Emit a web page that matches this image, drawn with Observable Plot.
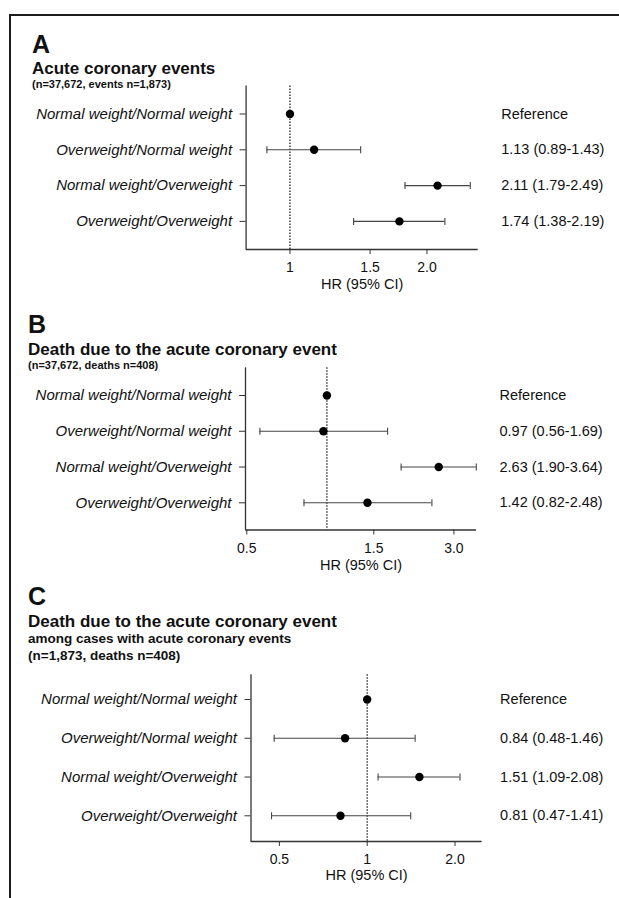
<!DOCTYPE html>
<html>
<head>
<meta charset="utf-8">
<script src="https://cdn.jsdelivr.net/npm/d3@7"></script>
<script src="https://cdn.jsdelivr.net/npm/@observablehq/plot@0.6"></script>
<style>
html, body { margin: 0; padding: 0; background: #fff; }
body { width: 619px; height: 898px; position: relative; overflow: hidden;
  font-family: "Liberation Sans", Arial, Helvetica, sans-serif; color: #111; }
.frame { position: absolute; left: 9px; top: 14px; width: 640px; height: 900px;
  border-top: 2px solid #1c1c1c; border-left: 2px solid #1c1c1c; }
.t { position: absolute; white-space: nowrap; line-height: 1; font-weight: bold; color: #111; }
.panel { position: absolute; left: 0; }
g[aria-label="y-axis tick label"] { font-style: italic; }
</style>
</head>
<body>
<div class="frame"></div>
<div class="t" style="left:32px;top:32.1px;font-size:25px;">A</div>
<div class="t" style="left:32px;top:59.6px;font-size:17px;">Acute coronary events</div>
<div class="t" style="left:32px;top:79.2px;font-size:11px;">(n=37,672, events n=1,873)</div>

<div class="t" style="left:28px;top:312.1px;font-size:25px;">B</div>
<div class="t" style="left:28px;top:340.6px;font-size:17px;">Death due to the acute coronary event</div>
<div class="t" style="left:28px;top:360.2px;font-size:11px;">(n=37,672, deaths n=408)</div>

<div class="t" style="left:28px;top:583.8px;font-size:25px;">C</div>
<div class="t" style="left:28px;top:612.9px;font-size:17px;">Death due to the acute coronary event</div>
<div class="t" style="left:28px;top:631.9px;font-size:13.5px;">among cases with acute coronary events</div>
<div class="t" style="left:28px;top:649.1px;font-size:13.5px;">(n=1,873, deaths n=408)</div>

<div id="pA" class="panel" style="top:80px;"></div>
<div id="pB" class="panel" style="top:360px;"></div>
<div id="pC" class="panel" style="top:665px;"></div>

<script>
// ---- Data ----
const groups = [
  "Normal weight/Normal weight",
  "Overweight/Normal weight",
  "Normal weight/Overweight",
  "Overweight/Overweight"
];
const referenceLabel = "Reference";
const xLabel = "HR (95% CI)";

// Panel A: Acute coronary events
const hrA = [1, 1.13, 2.11, 1.74];
const loA = [null, 0.89, 1.79, 1.38];
const hiA = [null, 1.43, 2.49, 2.19];
const ticksA = [1, 1.5, 2];
const tickLabelsA = ["1", "1.5", "2.0"];

// Panel B: Death due to the acute coronary event
const hrB = [1, 0.97, 2.63, 1.42];
const loB = [null, 0.56, 1.90, 0.82];
const hiB = [null, 1.69, 3.64, 2.48];
const ticksB = [0.5, 1.5, 3];
const tickLabelsB = ["0.5", "1.5", "3.0"];

// Panel C: Death among cases with acute coronary events
const hrC = [1, 0.84, 1.51, 0.81];
const loC = [null, 0.48, 1.09, 0.47];
const hiC = [null, 1.46, 2.08, 1.41];
const ticksC = [0.5, 1, 2];
const tickLabelsC = ["0.5", "1", "2.0"];

// ---- Drawing ----
const capSymbol = {
  draw(ctx, size) {
    const h = Math.sqrt(size / Math.PI);
    ctx.moveTo(0, -h);
    ctx.lineTo(0, h);
  }
};

function panel(cfg) {
  const rows = groups.map((g, i) => ({
    i, group: g, hr: cfg.hr[i], lo: cfg.lo[i], hi: cfg.hi[i],
    label: cfg.lo[i] == null ? referenceLabel
      : `${cfg.hr[i].toFixed(2)} (${cfg.lo[i].toFixed(2)}-${cfg.hi[i].toFixed(2)})`
  }));
  const ci = rows.filter(d => d.lo != null);
  const caps = ci.flatMap(d => [{i: d.i, x: d.lo}, {i: d.i, x: d.hi}]);
  return Plot.plot({
    width: 619,
    height: cfg.height,
    marginLeft: cfg.marginLeft,
    marginRight: cfg.marginRight,
    marginTop: cfg.marginTop,
    marginBottom: cfg.marginBottom,
    style: {fontFamily: '"Liberation Sans", Arial, Helvetica, sans-serif', background: "none", color: "#111", overflow: "visible"},
    x: {type: "log", domain: cfg.xDomain},
    y: {domain: cfg.yDomain, reverse: true},
    marks: [
      Plot.ruleX([cfg.xDomain[0]], {stroke: "#333", strokeWidth: 1.3}),
      Plot.ruleY([cfg.yDomain[1]], {stroke: "#333", strokeWidth: 1.3}),
      Plot.ruleX([1], {stroke: "#111", strokeWidth: 1.2, strokeDasharray: "1.4,1.6"}),
      Plot.axisX({
        ticks: cfg.ticks,
        tickFormat: d => cfg.tickLabels[cfg.ticks.indexOf(d)],
        tickSize: 5, tickPadding: 8, fontSize: 14, label: null, stroke: "#333", fill: "#111"
      }),
      Plot.axisY({
        ticks: [0, 1, 2, 3],
        tickFormat: i => groups[i],
        tickSize: 6, tickPadding: 8, fontSize: 15, fontStyle: "italic", label: null, stroke: "#333", fill: "#111"
      }),
      Plot.ruleY(ci, {y: "i", x1: "lo", x2: "hi", stroke: "#444", strokeWidth: 1.1}),
      Plot.dot(caps, {x: "x", y: "i", symbol: capSymbol, r: 3.5, fill: "none", stroke: "#444", strokeWidth: 1.1}),
      Plot.dot(rows, {x: "hr", y: "i", r: 4.2, fill: "#000", stroke: "none"}),
      Plot.text(rows, {y: "i", text: "label", frameAnchor: "right", lineAnchor: "middle", dx: cfg.labelDx, textAnchor: "start", fontSize: 14.5, fill: "#111"}),
      Plot.text([xLabel], {frameAnchor: "bottom", lineAnchor: "middle", dy: cfg.xLabelDy, fontSize: 14.5, fill: "#111"})
    ]
  });
}

document.getElementById("pA").append(panel({
  hr: hrA, lo: loA, hi: hiA, ticks: ticksA, tickLabels: tickLabelsA,
  height: 230, marginLeft: 245.6, marginRight: 141.3, marginTop: 5.5, marginBottom: 61,
  xDomain: [0.801, 2.592], yDomain: [-0.782, 3.785], labelDx: 23, xLabelDy: 35
}));
document.getElementById("pB").append(panel({
  hr: hrB, lo: loB, hi: hiB, ticks: ticksB, tickLabels: tickLabelsB,
  height: 230, marginLeft: 245, marginRight: 143, marginTop: 7.3, marginBottom: 60.5,
  xDomain: [0.4944, 3.647], yDomain: [-0.774, 3.76], labelDx: 23, xLabelDy: 35.4
}));
document.getElementById("pC").append(panel({
  hr: hrC, lo: loC, hi: hiC, ticks: ticksC, tickLabels: tickLabelsC,
  height: 233, marginLeft: 250.5, marginRight: 137.4, marginTop: 9.3, marginBottom: 57,
  xDomain: [0.3997, 2.477], yDomain: [-0.637, 3.663], labelDx: 18, xLabelDy: 33.5
}));
</script>
</body>
</html>
